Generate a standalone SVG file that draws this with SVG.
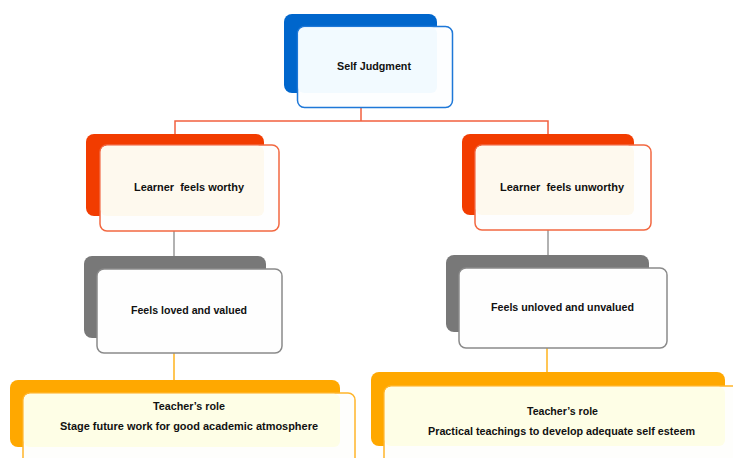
<svg xmlns="http://www.w3.org/2000/svg" width="733" height="458" viewBox="0 0 733 458">
<style>
text{font-family:"Liberation Sans",Arial,sans-serif;font-weight:bold;font-size:11.5px;fill:#111;text-anchor:middle;dominant-baseline:middle;white-space:pre}
.c{fill:none;stroke-width:1.5}
</style>
<rect width="733" height="458" fill="#fff"/>
<g id="connectors">
<path class="c" stroke="#F2603F" d="M361,107V121H175V134M361,121H548V134"/>
<path class="c" stroke="#999" d="M174,231V257M548,230V256"/>
<path class="c" stroke="#FFB41E" d="M174,353V381M547,348V373"/>
</g>
<g id="self-judgment">
<rect x="284" y="14" width="153" height="79" rx="8" fill="#0066CC"/>
<rect x="297.5" y="26.5" width="155" height="81" rx="7" fill="#FDFEFF" stroke="#1E78D8" stroke-width="1.5"/>
<rect x="298.3" y="27.3" width="138.7" height="65.7" rx="6" fill="#F2FAFF"/>
<text x="374" y="67" textLength="74" lengthAdjust="spacingAndGlyphs">Self Judgment</text>
</g>
<g id="learner-worthy">
<rect x="86" y="134" width="178" height="82" rx="8" fill="#F23C00"/>
<rect x="100" y="145" width="179" height="86" rx="7" fill="#FEFEFE" stroke="#F26841" stroke-width="1.5"/>
<rect x="100.8" y="145.8" width="163.2" height="70.2" rx="6" fill="#FEF9EE"/>
<text x="189" y="188" textLength="110" lengthAdjust="spacingAndGlyphs">Learner  feels worthy</text>
</g>
<g id="learner-unworthy">
<rect x="462" y="134" width="172" height="81" rx="8" fill="#F23C00"/>
<rect x="475" y="145" width="176" height="85" rx="7" fill="#FEFEFE" stroke="#F26841" stroke-width="1.5"/>
<rect x="475.8" y="145.8" width="158.2" height="69.2" rx="6" fill="#FEF9EE"/>
<text x="562" y="188" textLength="124" lengthAdjust="spacingAndGlyphs">Learner  feels unworthy</text>
</g>
<g id="feels-loved">
<rect x="84" y="256" width="182" height="82" rx="8" fill="#787878"/>
<rect x="97" y="269" width="185" height="84" rx="7" fill="#FEFEFE" stroke="#8A8A8A" stroke-width="1.5"/>
<text x="189" y="311" textLength="116" lengthAdjust="spacingAndGlyphs">Feels loved and valued</text>
</g>
<g id="feels-unloved">
<rect x="446" y="255" width="203" height="77" rx="8" fill="#787878"/>
<rect x="459" y="268" width="208" height="80" rx="7" fill="#FEFEFE" stroke="#8A8A8A" stroke-width="1.5"/>
<text x="562.5" y="308" textLength="143" lengthAdjust="spacingAndGlyphs">Feels unloved and unvalued</text>
</g>
<g id="teacher-left">
<rect x="10" y="380" width="330" height="67" rx="8" fill="#FFA800"/>
<rect x="23" y="393" width="332" height="80" rx="7" fill="#FEFEFC" stroke="#FFB52A" stroke-width="1.5"/>
<rect x="23.8" y="393.8" width="316.2" height="53.2" rx="6" fill="#FEFEE6"/>
<text x="189" y="407" textLength="72" lengthAdjust="spacingAndGlyphs">Teacher’s role</text>
<text x="189" y="427" textLength="258" lengthAdjust="spacingAndGlyphs">Stage future work for good academic atmosphere</text>
</g>
<g id="teacher-right">
<rect x="371" y="372" width="354" height="74" rx="8" fill="#FFA800"/>
<rect x="384" y="386" width="370" height="90" rx="7" fill="#FEFEFC" stroke="#FFB52A" stroke-width="1.5"/>
<rect x="384.8" y="386.8" width="340.2" height="59.2" rx="6" fill="#FEFEE6"/>
<text x="562.5" y="412" textLength="71" lengthAdjust="spacingAndGlyphs">Teacher’s role</text>
<text x="561.5" y="432" textLength="267" lengthAdjust="spacingAndGlyphs">Practical teachings to develop adequate self esteem</text>
</g>
</svg>
